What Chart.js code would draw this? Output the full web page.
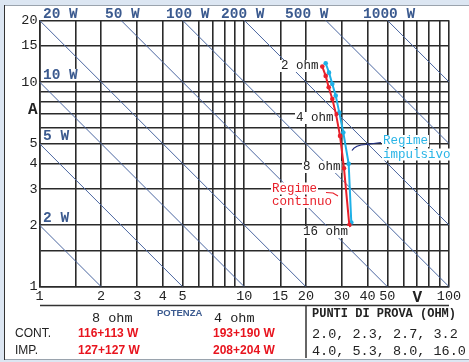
<!DOCTYPE html>
<html><head><meta charset="utf-8">
<script src="https://cdn.jsdelivr.net/npm/chart.js@4/dist/chart.umd.min.js"></script>
<style>html,body{margin:0;padding:0;background:#dce6f2}#wrap{width:469px;height:362px}</style>
</head><body><div id="wrap"><canvas id="c" width="469" height="362"></canvas></div>
<script>
// ---- data ----
const powerWatts = [2, 5, 10, 20, 50, 100, 200, 500, 1000];
const powerLabels = ['2 W', '5 W', '10 W', '20 W', '50 W', '100 W', '200 W', '500 W', '1000 W'];
const testOhms = [2.0, 2.3, 2.7, 3.2, 4.0, 5.3, 8.0, 16.0];
const contVolts = [24.05, 24.99, 25.85, 26.92, 28.06, 29.36, 30.7, 32.6];
const contAmps  = [11.88, 10.70, 9.42, 8.26, 6.96, 5.45, 3.79, 2.00];
const impVolts  = [24.99, 25.94, 26.92, 27.97, 29.12, 30.46, 32.36, 33.33];
const impAmps   = [12.34, 11.10, 9.78, 8.57, 7.08, 5.66, 3.98, 2.06];
const xGridValues = [1, 1.5, 2, 3, 4, 5, 6, 7, 8, 9, 10, 15, 20, 30, 40, 50, 60, 70, 80, 90, 100];
const xLabelValues = [1, 2, 3, 4, 5, 10, 15, 20, 30, 40, 50, 70, 100];
const xLabelTexts  = ['1', '2', '3', '4', '5', '10', '15', '20', '30', '40', '50', 'V', '100'];
const yGridValues = [1, 1.5, 2, 3, 4, 5, 6, 7, 8, 9, 10, 15, 20];
const yLabelValues = [1, 2, 3, 4, 5, 7.3, 10, 15, 20];
const yLabelTexts  = ['1', '2', '3', '4', '5', 'A', '10', '15', '20'];
const ohmLabels = ['2 ohm', '4 ohm', '8 ohm', '16 ohm'];
const tableRows = ['CONT.', 'IMP.'];
const power8 = ['116+113 W', '127+127 W'];
const power4 = ['193+190 W', '208+204 W'];

const X_MIN = 1, X_MAX = 100, Y_MIN = 1, Y_MAX = 20;
const MONO = '"Liberation Mono", "Courier New", monospace';
const SANS = '"Liberation Sans", Arial, sans-serif';
const BLUE_TXT = '#3b5a8f';

function uniqSorted(a, b) { return Array.from(new Set(a.concat(b))).sort((p, q) => p - q); }
const xTicks = uniqSorted(xGridValues, xLabelValues);
const yTicks = uniqSorted(yGridValues, yLabelValues);

// power lines V*I = P clipped to the box
const powerDatasets = powerWatts.map(P => {
  const v0 = Math.max(X_MIN, P / Y_MAX), v1 = Math.min(X_MAX, P / Y_MIN);
  return { data: [{x: v0, y: P / v0}, {x: v1, y: P / v1}], borderColor: '#4a66a0', borderWidth: 1,
           pointRadius: 0, fill: false, order: 5 };
});

const datasets = powerDatasets.concat([
  { data: impVolts.map((v, i) => ({x: v, y: impAmps[i]})), borderColor: '#1fb0e6', backgroundColor: '#1fb0e6',
    borderWidth: 2, pointRadius: 2.3, pointBorderWidth: 0, order: 2 },
  { data: contVolts.map((v, i) => ({x: v, y: contAmps[i]})), borderColor: '#e8212b', backgroundColor: '#e8212b',
    borderWidth: 2, pointRadius: 2.3, pointBorderWidth: 0, order: 1 }
]);

function boxText(ctx, txt, x, y, font, color, bg) {
  ctx.font = font; ctx.textBaseline = 'middle'; ctx.textAlign = 'left';
  if (bg) { const w = ctx.measureText(txt).width; ctx.fillStyle = '#ffffff'; ctx.fillRect(x - 1, y - 6, w + 2, 12); }
  ctx.fillStyle = color; ctx.fillText(txt, x, y);
}

const framePlugin = {
  id: 'frame',
  beforeDraw(chart) {
    const ctx = chart.ctx;
    ctx.save();
    ctx.fillStyle = '#dce6f2'; ctx.fillRect(0, 0, 469, 362);
    ctx.fillStyle = '#ffffff'; ctx.fillRect(4, 5, 466, 355);
    ctx.strokeStyle = '#9aa3ad'; ctx.lineWidth = 1;
    ctx.beginPath(); ctx.moveTo(4, 5.5); ctx.lineTo(469, 5.5); ctx.stroke();
    ctx.beginPath(); ctx.moveTo(4, 359.5); ctx.lineTo(469, 359.5); ctx.stroke();
    ctx.strokeStyle = '#333'; ctx.beginPath(); ctx.moveTo(4.5, 5); ctx.lineTo(4.5, 360); ctx.stroke();
    ctx.restore();
  },
  afterDraw(chart) {
    const ctx = chart.ctx, xs = chart.scales.x, ys = chart.scales.y;
    ctx.save();
    // power labels at the top
    const pfont = 'bold 14.5px ' + MONO;
    const topLeft = {20: 43, 50: 105, 100: 166, 200: 221, 500: 285, 1000: 363};
    powerWatts.forEach((P, i) => {
      if (topLeft[P] !== undefined) boxText(ctx, powerLabels[i], topLeft[P], 14, pfont, BLUE_TXT, false);
      else boxText(ctx, powerLabels[i], 43, ys.getPixelForValue(P) - 7, pfont, BLUE_TXT, true);
    });
    // ohm labels
    const ofont = '12.5px ' + MONO;
    boxText(ctx, ohmLabels[0], 281, 66, ofont, '#222', true);
    boxText(ctx, ohmLabels[1], 296, 118, ofont, '#222', true);
    boxText(ctx, ohmLabels[2], 303, 167, ofont, '#222', true);
    boxText(ctx, ohmLabels[3], 303, 232, ofont, '#222', true);
    // regime labels
    boxText(ctx, 'Regime', 383, 141, ofont, '#29b4e6', true);
    boxText(ctx, 'impulsivo', 383, 154.5, ofont, '#29b4e6', true);
    boxText(ctx, 'Regime', 272, 188.5, ofont, '#e8212b', true);
    boxText(ctx, 'continuo', 272, 202, ofont, '#e8212b', true);
    // leaders
    ctx.lineWidth = 1.2;
    ctx.strokeStyle = '#1d2a80';
    ctx.beginPath(); ctx.moveTo(352, 150.5); ctx.quadraticCurveTo(355, 145, 366, 144.5); ctx.lineTo(381, 142.5); ctx.stroke();
    ctx.strokeStyle = '#e8212b';
    ctx.beginPath(); ctx.moveTo(326, 192.5); ctx.lineTo(333, 193); ctx.lineTo(338, 196); ctx.stroke();
    // table
    ctx.strokeStyle = '#333'; ctx.lineWidth = 1.5;
    ctx.beginPath(); ctx.moveTo(40, 305.5); ctx.lineTo(449, 305.5); ctx.stroke();
    ctx.beginPath(); ctx.moveTo(306, 305); ctx.lineTo(306, 358); ctx.stroke();
    const tfont = '13.5px ' + MONO;
    boxText(ctx, '8 ohm', 92, 318, tfont, '#222', false);
    boxText(ctx, '4 ohm', 214, 318, tfont, '#222', false);
    boxText(ctx, 'POTENZA', 157, 313, 'bold 9.5px ' + SANS, BLUE_TXT, false);
    boxText(ctx, 'PUNTI DI PROVA (OHM)', 312, 314, 'bold 12px ' + MONO, '#222', false);
    tableRows.forEach((r, i) => {
      const y = 334 + i * 17;
      boxText(ctx, r, 15, y, '12px ' + SANS, '#222', false);
      boxText(ctx, power8[i], 78, y, 'bold 12px ' + SANS, '#e8141e', false);
      boxText(ctx, power4[i], 213, y, 'bold 12px ' + SANS, '#e8141e', false);
      const list = testOhms.slice(i * 4, i * 4 + 4).map(v => v.toFixed(1)).join(', ');
      boxText(ctx, list, 312, y, tfont, '#222', false);
    });
    ctx.restore();
  }
};

function gridColor(vals) {
  return c => (c.tick && vals.includes(c.tick.value)) ? '#2a2a2a' : 'rgba(0,0,0,0)';
}

new Chart(document.getElementById('c'), {
  type: 'line',
  data: { datasets },
  plugins: [framePlugin],
  options: {
    responsive: false, animation: false, devicePixelRatio: 1,
    layout: { padding: { top: 20.3, right: 20, left: 0, bottom: 0 } },
    plugins: { legend: { display: false }, tooltip: { enabled: false } },
    elements: { line: { tension: 0 } },
    scales: {
      x: {
        type: 'logarithmic', min: X_MIN, max: X_MAX,
        afterFit: s => { s.height = 75.3; },
        afterBuildTicks: s => { s.ticks = xTicks.map(v => ({ value: v })); },
        grid: { color: gridColor(xGridValues), lineWidth: 1.6, drawTicks: false, tickLength: 0 },
        border: { display: true, color: '#2a2a2a', width: 1.6 },
        ticks: {
          autoSkip: false, maxRotation: 0, padding: 2, color: '#222',
          font: c => (c.tick && c.tick.value === 70) ? { family: MONO, size: 16, weight: 'bold' } : { family: MONO, size: 13.5 },
          callback: v => { const i = xLabelValues.indexOf(v); return i >= 0 ? xLabelTexts[i] : ''; }
        }
      },
      y: {
        type: 'logarithmic', min: Y_MIN, max: Y_MAX,
        afterFit: s => { s.width = 39.5; },
        afterBuildTicks: s => { s.ticks = yTicks.map(v => ({ value: v })); },
        grid: { color: gridColor(yGridValues), lineWidth: 1.6, drawTicks: false, tickLength: 0 },
        border: { display: true, color: '#2a2a2a', width: 1.6 },
        ticks: {
          autoSkip: false, padding: 2, color: '#222',
          font: c => (c.tick && c.tick.value === 7.3) ? { family: MONO, size: 16, weight: 'bold' } : { family: MONO, size: 13.5 },
          callback: v => { const i = yLabelValues.indexOf(v); return i >= 0 ? yLabelTexts[i] : ''; }
        }
      }
    }
  }
});
</script></body></html>
